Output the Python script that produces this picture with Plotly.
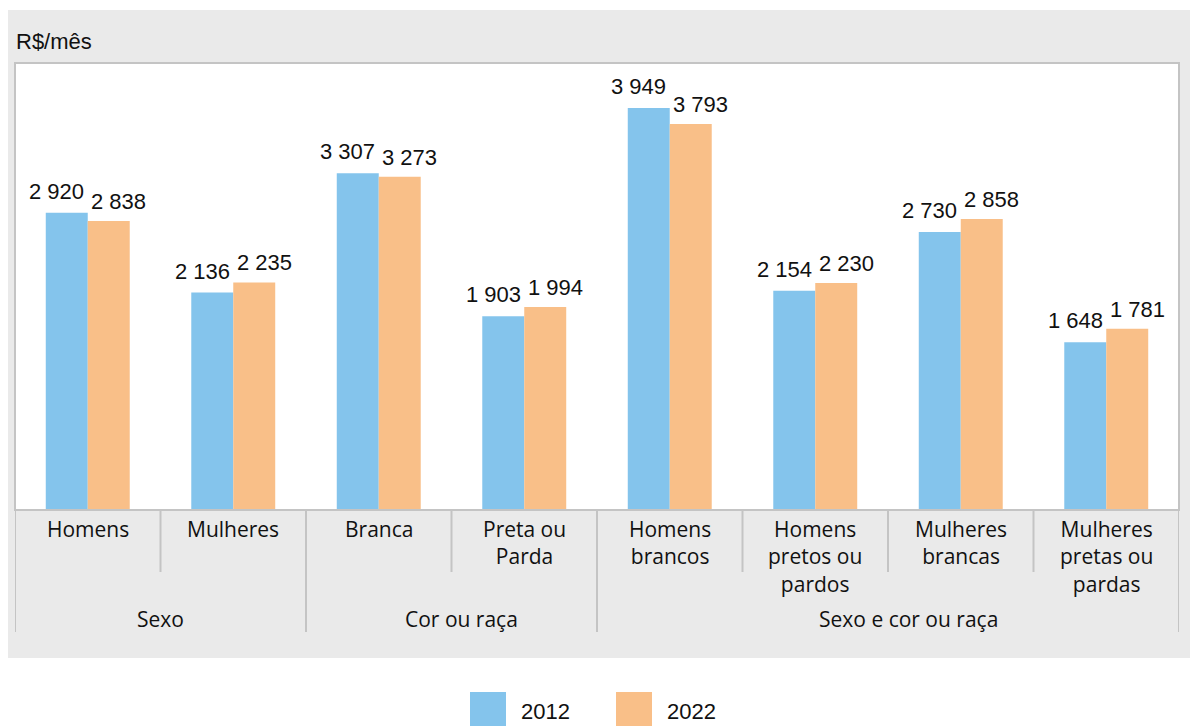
import plotly.graph_objects as go

# data
categories = [
    "Homens",
    "Mulheres",
    "Branca",
    "Preta ou<br>Parda",
    "Homens<br>brancos",
    "Homens<br>pretos ou<br>pardos",
    "Mulheres<br>brancas",
    "Mulheres<br>pretas ou<br>pardas",
]
values_2012 = [2920, 2136, 3307, 1903, 3949, 2154, 2730, 1648]
values_2022 = [2838, 2235, 3273, 1994, 3793, 2230, 2858, 1781]
groups = ["Sexo", "Cor ou raça", "Sexo e cor ou raça"]
group_spans = [(0, 1), (2, 3), (4, 7)]
series_names = ["2012", "2022"]

BLUE = "#84C4EC"
ORANGE = "#F9BF88"
PANEL = "#EAEAEA"
LINE = "#C4C4C4"
TXT = "#111111"

OFF = 8  # page body margin: the figure starts 8px in from the window corner
W, H = 1199 - OFF, 726 - OFF
L, R, T, B = 15 - OFF, 1179 - OFF, 63 - OFF, 510 - OFF  # plot area in figure pixels


def px_x(px):
    # window pixel -> paper x
    return (px - OFF - L) / (R - L)


def px_y(py):
    return (B - (py - OFF)) / (B - T)


def fmt(v):
    return f"{v:,}".replace(",", " ")


x = list(range(len(categories)))

fig = go.Figure()
fig.add_trace(go.Bar(x=x, y=values_2012, name=series_names[0], marker_color=BLUE,
                     marker_line_width=0, hoverinfo="skip"))
fig.add_trace(go.Bar(x=x, y=values_2022, name=series_names[1], marker_color=ORANGE,
                     marker_line_width=0, hoverinfo="skip"))

shapes = [
    # grey panel
    dict(type="rect", xref="paper", yref="paper", x0=px_x(8), x1=px_x(1190),
         y0=px_y(658), y1=px_y(10), fillcolor=PANEL, line_width=0, layer="below"),
    # white plot area
    dict(type="rect", xref="paper", yref="paper", x0=0, x1=1, y0=0, y1=1,
         fillcolor="white", line=dict(color=LINE, width=2), layer="below"),
    dict(type="line", xref="paper", yref="paper", x0=0, x1=1, y0=0, y1=0,
         line=dict(color=LINE, width=2), layer="above"),
]

# separators under the axis
long_seps = [-0.5] + [g[1] + 0.5 for g in group_spans]
short_seps = [i + 0.5 for i in range(len(categories) - 1) if i + 0.5 not in long_seps]
for s in long_seps:
    shapes.append(dict(type="line", xref="x", yref="paper", x0=s, x1=s,
                       y0=0, y1=px_y(632), line=dict(color=LINE, width=2)))
for s in short_seps:
    shapes.append(dict(type="line", xref="x", yref="paper", x0=s, x1=s,
                       y0=0, y1=px_y(572), line=dict(color=LINE, width=2)))

# legend swatches
shapes.append(dict(type="rect", xref="paper", yref="paper", x0=px_x(470), x1=px_x(506),
                   y0=px_y(730), y1=px_y(692), fillcolor=BLUE, line_width=0))
shapes.append(dict(type="rect", xref="paper", yref="paper", x0=px_x(616), x1=px_x(652),
                   y0=px_y(730), y1=px_y(692), fillcolor=ORANGE, line_width=0))

annotations = []
val_font = dict(family="Liberation Sans, Arial", size=22, color=TXT)
for i in x:
    annotations.append(dict(x=i, y=values_2012[i], text=fmt(values_2012[i]), showarrow=False,
                            xanchor="center", yanchor="bottom", xshift=-31, yshift=7,
                            font=val_font))
    annotations.append(dict(x=i, y=values_2022[i], text=fmt(values_2022[i]), showarrow=False,
                            xanchor="center", yanchor="bottom", xshift=31, yshift=5,
                            font=val_font))

cat_font = dict(family="Open Sans", size=21, color=TXT)
for i, c in enumerate(categories):
    annotations.append(dict(x=i, y=px_y(513), yref="paper", text=c, showarrow=False,
                            xanchor="center", yanchor="top", font=cat_font))

group_shift = [0, 10, 20]
for g, (a, b), sh in zip(groups, group_spans, group_shift):
    annotations.append(dict(x=(a + b) / 2, y=px_y(619), yref="paper", text=g, showarrow=False,
                            xanchor="center", yanchor="middle", xshift=sh, font=cat_font))

annotations.append(dict(x=px_x(14), y=px_y(42), xref="paper", yref="paper", text="R$/mês",
                        showarrow=False, xanchor="left", yanchor="middle", font=val_font))
annotations.append(dict(x=px_x(519), y=px_y(711), xref="paper", yref="paper", text=series_names[0],
                        showarrow=False, xanchor="left", yanchor="middle", font=val_font))
annotations.append(dict(x=px_x(665), y=px_y(711), xref="paper", yref="paper", text=series_names[1],
                        showarrow=False, xanchor="left", yanchor="middle", font=val_font))

fig.update_layout(
    width=W,
    height=H,
    margin=dict(l=L, r=W - R, t=T, b=H - B, pad=0),
    paper_bgcolor="white",
    plot_bgcolor="rgba(0,0,0,0)",
    barmode="group",
    bargap=0.423,
    bargroupgap=0,
    showlegend=False,
    shapes=shapes,
    annotations=annotations,
    font=dict(family="Liberation Sans, Arial", size=21, color=TXT),
)
fig.update_xaxes(range=[-0.5, 7.5], showticklabels=False, showgrid=False, zeroline=False,
                 showline=False, ticks="", fixedrange=True)
fig.update_yaxes(range=[0, 4391], showticklabels=False, showgrid=False, zeroline=False,
                 showline=False, ticks="", fixedrange=True)

fig.write_html("out.html")
